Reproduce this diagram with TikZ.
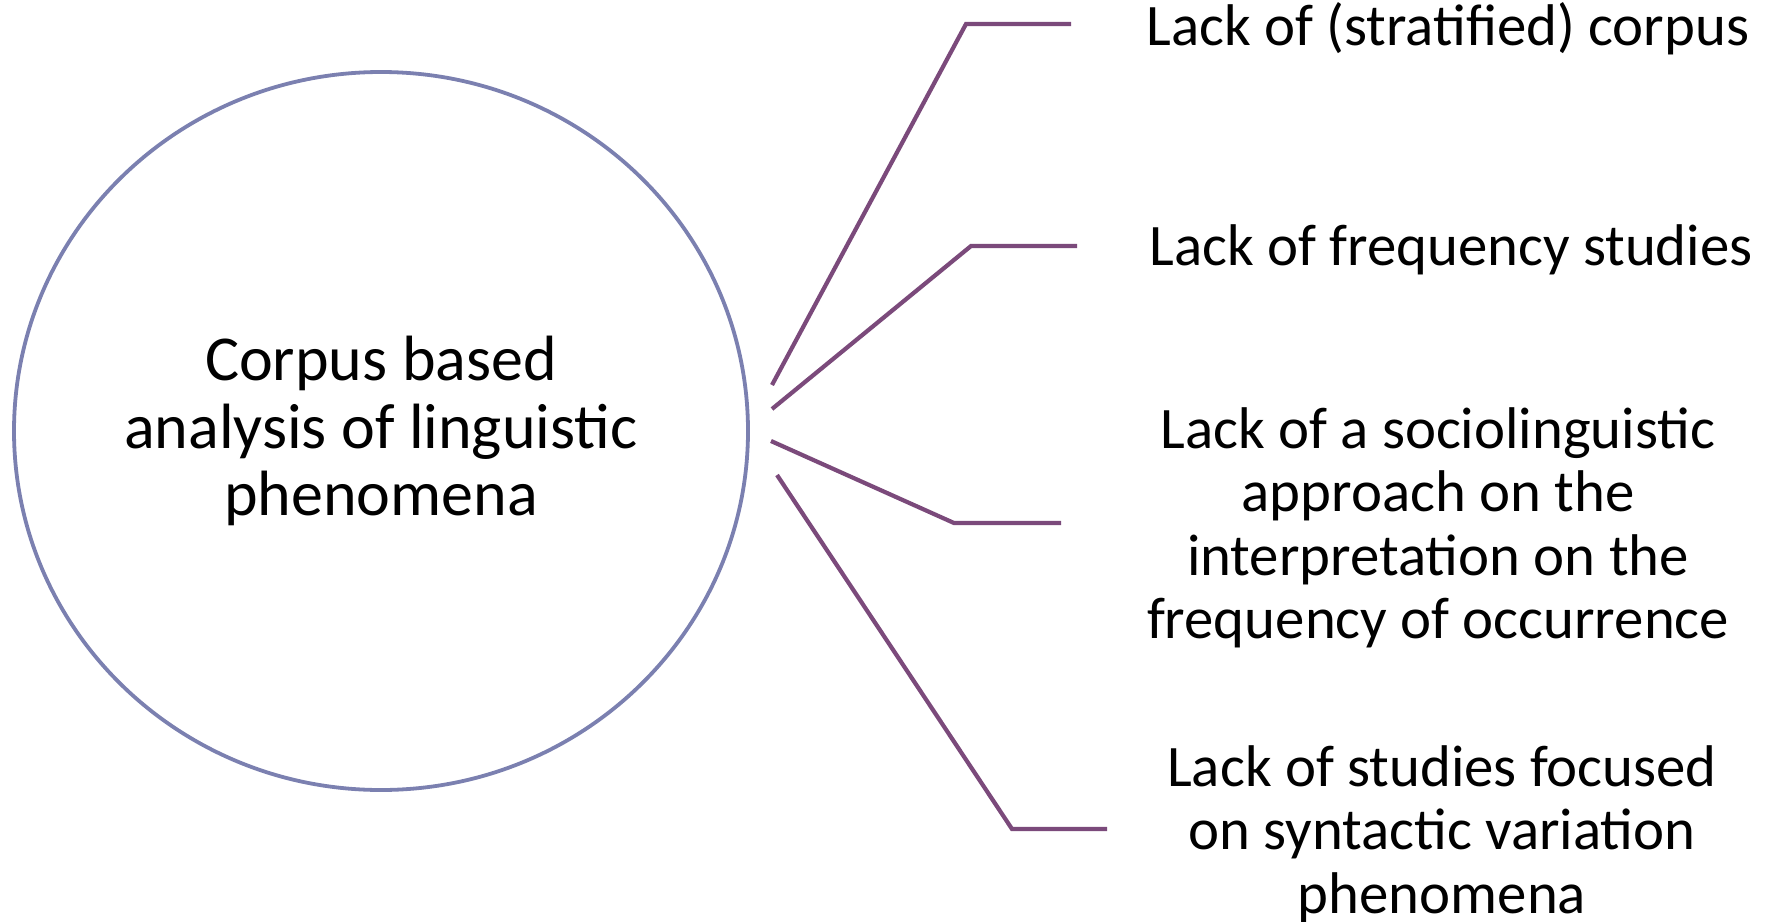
\documentclass[tikz,border=0pt]{standalone}
\usepackage{fontspec}
\setmainfont{Carlito}
\definecolor{ringblue}{RGB}{123,128,176}
\definecolor{branchpurple}{RGB}{123,74,123}
\usetikzlibrary{shapes.geometric,positioning,calc}

\begin{document}
\begin{tikzpicture}[x=0.5pt, y=-0.5pt,
    topic/.style={ellipse, draw=ringblue, line width=1.9pt, minimum width=367pt,
                  minimum height=359pt, align=center, inner sep=0pt,
                  font=\fontsize{32}{33.6}\selectfont},
    gap/.style={align=center, inner sep=0pt, font=\fontsize{29.4}{31.7}\selectfont},
    branch/.style={branchpurple, line width=2.1pt}]
\useasboundingbox (0,0) rectangle (1771,921);

\node[topic] (core) at (381,431) {Corpus based\\analysis of linguistic\\phenomena};

\node[gap] (corpus) at (1448,29) {Lack of (stratified) corpus};
\node[gap] (freq) at (1451,250) {Lack of frequency studies};
\node[gap] (socio) at (1438,528) {Lack of a sociolinguistic\\approach on the\\interpretation on the\\frequency of occurrence};
\node[gap] (syntax) at (1442,834) {Lack of studies focused\\on syntactic variation\\phenomena};

% branch start and knee points
\coordinate (s1) at (772,385);  \coordinate (k1) at (966,24);   \coordinate (e1) at (1071,24);
\coordinate (s2) at (772,409);  \coordinate (k2) at (971,246);  \coordinate (e2) at (1077,246);
\coordinate (s3) at (771,441);  \coordinate (k3) at (954,523);  \coordinate (e3) at (1061,523);
\coordinate (s4) at (777,475);  \coordinate (k4) at (1012,829); \coordinate (e4) at (1107,829);

\draw[branch] (s1) -- (k1) -- (e1);
\draw[branch] (s2) -- (k2) -- (e2);
\draw[branch] (s3) -- (k3) -- (e3);
\draw[branch] (s4) -- (k4) -- (e4);
\end{tikzpicture}
\end{document}
